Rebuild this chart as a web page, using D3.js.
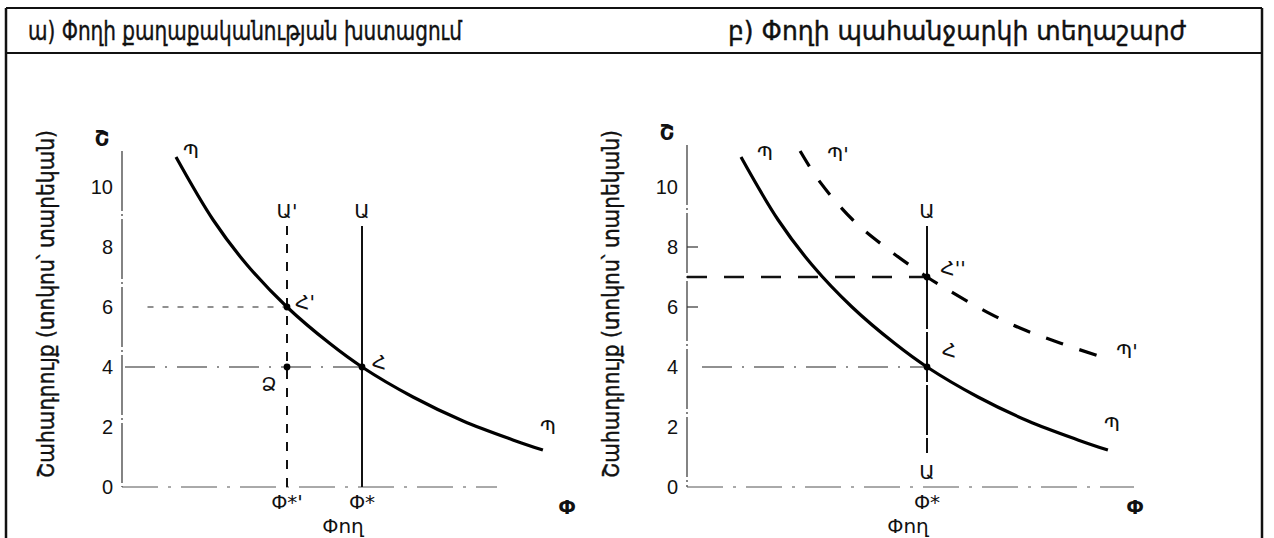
<!DOCTYPE html>
<html>
<head>
<meta charset="utf-8">
<script src="https://cdn.jsdelivr.net/npm/d3@7"></script>
<style>
  html, body { margin: 0; padding: 0; background: #fff; }
  svg { display: block; }
  text { font-family: "DejaVu Sans", "Noto Sans", sans-serif; fill: #111; }
  .heavy { stroke: #111; stroke-width: 0.35px; }
</style>
</head>
<body>
<svg id="chart" width="1274" height="538"></svg>
<script>
// ---------------- data ----------------
const panelTitles = ["ա) Փողի քաղաքականության խստացում", "բ) Փողի պահանջարկի տեղաշարժ"];
const yAxisTitle = "Շահադրույք (տոկոս՝ տարեկան)";
const xAxisTitle = "Փող";
const yAxisLetter = "Շ";
const xAxisLetter = "Փ";
const yTicks = [0, 2, 4, 6, 8, 10];

// demand curve Պ (money quantity, interest rate)
const demandQ = [1.8, 3.04, 4.17, 5.5, 6.93, 8, 9.7, 11.37, 13.03, 14.03];
const demandR = [11.0, 8.9, 7.4, 6.0, 4.78, 4.0, 3.0, 2.2, 1.57, 1.23];
// shifted demand curve Պ' (panel b)
const demand2Q = [3.77, 4.43, 5.53, 6.67, 8, 8.87, 10, 11.1, 12.43, 13.93];
const demand2R = [11.2, 10.17, 8.9, 7.95, 7.0, 6.47, 5.83, 5.3, 4.8, 4.3];

// money supply lines
const supplyQ = 8;        // Փ*
const supply2Q = 5.5;     // Փ*' (tightened)
const supplyTop = 8.7;
const supplyBottomB = 1.13;
// equilibrium rates
const rateA = 4, rateA2 = 6, rateB2 = 7;
const xAxisEnd = [12.5, 14.9];
const yAxisTop = [11.2, 11.4];

// ---------------- drawing ----------------
const svg = d3.select("#chart");
const W = 1274, H = 538;

// frame
const frame = svg.append("g").attr("stroke", "#111").attr("fill", "none");
frame.append("line").attr("x1", 6).attr("y1", 8).attr("x2", 6).attr("y2", H).attr("stroke-width", 2.5);
frame.append("line").attr("x1", 1262).attr("y1", 8).attr("x2", 1262).attr("y2", H).attr("stroke-width", 2.5);
frame.append("line").attr("x1", 6).attr("y1", 8).attr("x2", 1262).attr("y2", 8).attr("stroke-width", 2);
frame.append("line").attr("x1", 6).attr("y1", 53).attr("x2", 1262).attr("y2", 53).attr("stroke-width", 2);

// titles (glyphs stretched vertically to match the tall scanned lettering)
const titleX = [245, 957];
panelTitles.forEach((t, i) => {
  svg.append("text").attr("class", "heavy")
    .attr("transform", `translate(${titleX[i]},40) scale(1,1.3)`)
    .attr("text-anchor", "middle").attr("font-size", 21)
    .attr("textLength", i === 0 ? 434 : 458).attr("lengthAdjust", "spacingAndGlyphs")
    .text(t);
});

const origins = [122, 687];
const yTitleX = [47, 612];

function panel(i) {
  const ox = origins[i];
  const x = d3.scaleLinear().domain([0, 15]).range([ox, ox + 450]);
  const y = d3.scaleLinear().domain([0, 10]).range([487, 187]);
  const g = svg.append("g");

  // y axis title (rotated)
  g.append("text").attr("class", "heavy")
    .attr("transform", `translate(${yTitleX[i] + 7},${304}) rotate(-90) scale(1,1.25)`)
    .attr("text-anchor", "middle")
    .attr("font-size", 19).attr("textLength", 348).attr("lengthAdjust", "spacingAndGlyphs")
    .text(yAxisTitle);

  // y axis line
  g.append("line").attr("x1", x(0)).attr("x2", x(0)).attr("y1", y(yAxisTop[i])).attr("y2", y(0))
    .attr("stroke", "#333").attr("stroke-width", 1.2).attr("stroke-dasharray", "60,3,2,3");
  // y tick labels
  const yAxis = d3.axisLeft(y).tickValues(yTicks).tickSize(0).tickPadding(9);
  const ya = g.append("g").attr("transform", `translate(${x(0)},0)`).call(yAxis);
  ya.select(".domain").remove();
  ya.selectAll("text").attr("font-size", 20).attr("fill", "#111")
    .style("font-family", "'Liberation Sans', Arial, sans-serif");
  if (i === 1) {
    [8, 6].forEach(v => g.append("line").attr("x1", x(0)).attr("x2", x(0) + 11)
      .attr("y1", y(v)).attr("y2", y(v)).attr("stroke", "#333").attr("stroke-width", 1.2));
  }
  // y axis letter
  g.append("text").attr("x", x(0) - 20).attr("y", y(yAxisTop[i]) - 5).attr("text-anchor", "middle")
    .attr("font-size", 21).attr("font-weight", "bold").text(yAxisLetter);

  // x axis line
  g.append("line").attr("x1", x(0)).attr("x2", x(xAxisEnd[i])).attr("y1", y(0)).attr("y2", y(0))
    .attr("stroke", "#555").attr("stroke-width", 1).attr("stroke-dasharray", "36,10,3,10");
  // x axis letter and title
  g.append("text").attr("x", i === 0 ? 567 : 1135).attr("y", 514).attr("text-anchor", "middle")
    .attr("font-size", 20).attr("font-weight", "bold").text(xAxisLetter);
  g.append("text").attr("x", i === 0 ? 343 : 908).attr("y", 533).attr("text-anchor", "middle")
    .attr("font-size", 20).text(xAxisTitle);

  const line = d3.line().x(d => x(d[0])).y(d => y(d[1])).curve(d3.curveCatmullRom.alpha(0.5));
  const dem = demandQ.map((q, k) => [q, demandR[k]]);
  const L = (t, px, py, fs) => g.append("text").attr("x", px).attr("y", py)
    .attr("text-anchor", "middle").attr("font-size", fs || 20).text(t);

  if (i === 0) {
    // guide lines
    g.append("line").attr("x1", x(0.85)).attr("x2", x(supply2Q)).attr("y1", y(rateA2)).attr("y2", y(rateA2))
      .attr("stroke", "#222").attr("stroke-width", 1.2).attr("stroke-dasharray", "6,9");
    g.append("line").attr("x1", x(0.1)).attr("x2", x(supplyQ)).attr("y1", y(rateA)).attr("y2", y(rateA))
      .attr("stroke", "#222").attr("stroke-width", 1.2).attr("stroke-dasharray", "30,10,2,10");
    // supply lines
    g.append("line").attr("x1", x(supplyQ)).attr("x2", x(supplyQ)).attr("y1", y(supplyTop)).attr("y2", y(0))
      .attr("stroke", "#111").attr("stroke-width", 2);
    g.append("line").attr("x1", x(supply2Q)).attr("x2", x(supply2Q)).attr("y1", y(supplyTop)).attr("y2", y(0))
      .attr("stroke", "#111").attr("stroke-width", 2).attr("stroke-dasharray", "9,9");
    // demand
    g.append("path").datum(dem).attr("d", line).attr("fill", "none")
      .attr("stroke", "#000").attr("stroke-width", 3.2);
    // points
    [[supply2Q, rateA2], [supplyQ, rateA], [supply2Q, rateA]].forEach(p =>
      g.append("circle").attr("cx", x(p[0])).attr("cy", y(p[1])).attr("r", 3.4).attr("fill", "#000"));
    // labels
    L("Պ", x(dem[0][0]) + 15, y(dem[0][1]) + 1);
    L("Պ", x(14.03) + 5, y(1.23) - 16);
    L("Ա'", x(supply2Q), y(supplyTop) - 8);
    L("Ա", x(supplyQ), y(supplyTop) - 8);
    L("Հ'", x(supply2Q) + 18, y(rateA2) + 2);
    L("Հ", x(supplyQ) + 17, y(rateA) + 2);
    L("Ձ", x(supply2Q) - 18, y(rateA) + 24);
    L("Փ*'", x(supply2Q), y(0) + 22);
    L("Փ*", x(supplyQ), y(0) + 22);
  } else {
    const dem2 = demand2Q.map((q, k) => [q, demand2R[k]]);
    g.append("line").attr("x1", x(0)).attr("x2", x(supplyQ)).attr("y1", y(rateB2)).attr("y2", y(rateB2))
      .attr("stroke", "#111").attr("stroke-width", 2.5).attr("stroke-dasharray", "20,17");
    g.append("line").attr("x1", x(0.5)).attr("x2", x(supplyQ)).attr("y1", y(rateA)).attr("y2", y(rateA))
      .attr("stroke", "#222").attr("stroke-width", 1.2).attr("stroke-dasharray", "30,10,2,10");
    g.append("line").attr("x1", x(supplyQ)).attr("x2", x(supplyQ)).attr("y1", y(supplyTop)).attr("y2", y(supplyBottomB))
      .attr("stroke", "#111").attr("stroke-width", 2).attr("stroke-dasharray", "50,3");
    g.append("path").datum(dem).attr("d", line).attr("fill", "none")
      .attr("stroke", "#000").attr("stroke-width", 3.2);
    g.append("path").datum(dem2).attr("d", line).attr("fill", "none")
      .attr("stroke", "#000").attr("stroke-width", 3.2).attr("stroke-dasharray", "18,17");
    [[supplyQ, rateB2], [supplyQ, rateA]].forEach(p =>
      g.append("circle").attr("cx", x(p[0])).attr("cy", y(p[1])).attr("r", 3.4).attr("fill", "#000"));
    L("Պ", x(dem[0][0]) + 24, y(dem[0][1]) + 3);
    L("Պ", x(14.03) + 4, y(1.23) - 19);
    L("Պ'", x(demand2Q[0]) + 38, y(demand2R[0]) + 10);
    L("Պ'", x(13.93) + 22, y(4.3) + 0);
    L("Ա", x(supplyQ), y(supplyTop) - 8);
    L("Ա", x(supplyQ), y(supplyBottomB) + 26);
    L("Հ''", x(supplyQ) + 26, y(rateB2) - 2);
    L("Հ", x(supplyQ) + 22, y(rateA) - 10);
    L("Փ*", x(supplyQ), y(0) + 22);
  }
}
panel(0);
panel(1);
</script>
</body>
</html>
